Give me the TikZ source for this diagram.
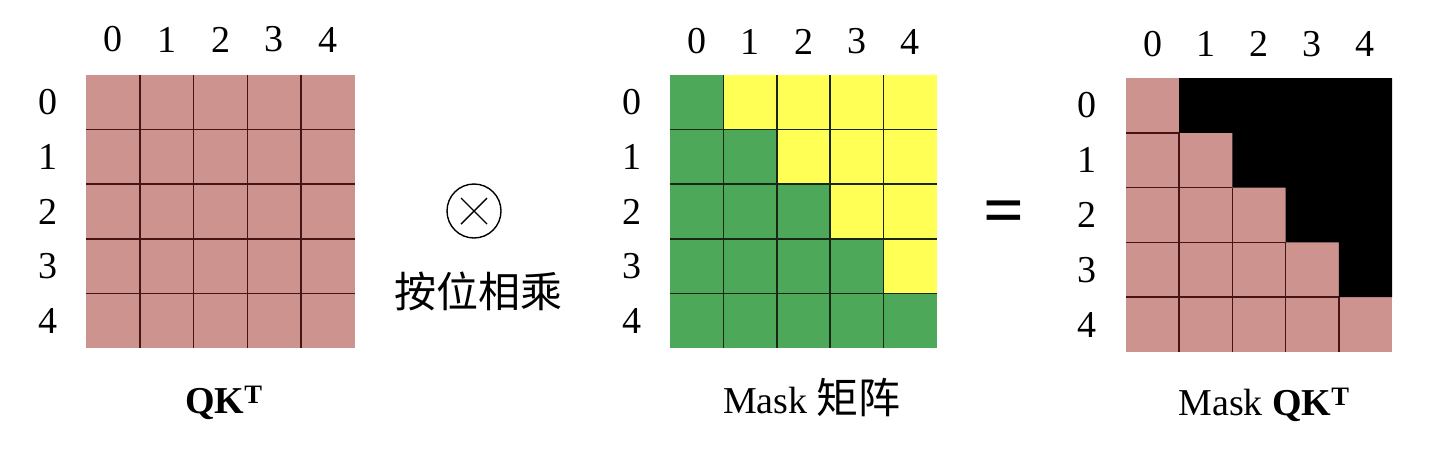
\documentclass[tikz,border=0pt]{standalone}
\usepackage{fontspec}
\setmainfont{Liberation Serif}
\newfontfamily\cjk{Noto Sans CJK SC}
\usetikzlibrary{calc}
\definecolor{qkpink}{RGB}{205,147,143}
\definecolor{mgreen}{RGB}{78,168,90}
\definecolor{myellow}{RGB}{255,255,85}
\definecolor{gridbrown}{RGB}{70,20,20}
\definecolor{gridgreen}{RGB}{25,40,20}
\begin{document}
\begin{tikzpicture}[x=1pt,y=-1pt,
  lab/.style={font=\fontsize{38}{40}\selectfont, inner sep=0pt},
  captxt/.style={font=\fontsize{38}{42}\selectfont, inner sep=0pt, anchor=base},
  gridA/.style={draw=gridbrown, line width=1.6pt},
  gridB/.style={draw=gridgreen, line width=1.5pt}]
\useasboundingbox (0,0) rectangle (1436,448);

% ---------- Matrix 1: QK^T ----------
\def\ax{86}\def\ay{75}\def\aw{53.8}\def\ah{54.6}
\fill[qkpink] (\ax,\ay) rectangle (\ax+5*\aw,\ay+5*\ah);
\foreach \i in {1,...,4} {
  \draw[gridA] (\ax+\i*\aw,\ay) -- (\ax+\i*\aw,\ay+5*\ah);
  \draw[gridA] (\ax,\ay+\i*\ah) -- (\ax+5*\aw,\ay+\i*\ah);
}
\foreach \i in {0,...,4} {
  \node[lab] (ac\i) at (\ax+\i*\aw+0.5*\aw, 39.5) {\i};
  \node[lab] (ar\i) at (48, \ay+\i*\ah+0.5*\ah) {\i};
}
\node[captxt] (qkt) at (224,413) {\textbf{QK}\textsuperscript{\textbf{T}}};

% ---------- operator ----------
\node[circle, draw, line width=1.4pt, minimum size=54pt, inner sep=0pt] (otimes) at (474,211) {};
\draw[line width=1.4pt] ($(otimes.center)+(-13,-13)$) -- ($(otimes.center)+(13,13)$);
\draw[line width=1.4pt] ($(otimes.center)+(-13,13)$) -- ($(otimes.center)+(13,-13)$);
\node[font=\cjk\fontsize{42}{46}\selectfont, inner sep=0pt] (opname) at (478,291) {按位相乘};

% ---------- Matrix 2: Mask ----------
\def\bx{670}\def\by{75}\def\bw{53.4}\def\bh{54.6}
\foreach \r in {0,...,4} {
  \foreach \c in {0,...,4} {
    \ifnum\c>\r
      \fill[myellow] (\bx+\c*\bw,\by+\r*\bh) rectangle +(\bw,\bh);
    \else
      \fill[mgreen] (\bx+\c*\bw,\by+\r*\bh) rectangle +(\bw,\bh);
    \fi
  }
}
\foreach \i in {1,...,4} {
  \draw[gridB] (\bx+\i*\bw,\by) -- (\bx+\i*\bw,\by+5*\bh);
  \draw[gridB] (\bx,\by+\i*\bh) -- (\bx+5*\bw,\by+\i*\bh);
}
\foreach \i in {0,...,4} {
  \node[lab] (bc\i) at (\bx+\i*\bw+0.5*\bw, 41.5) {\i};
  \node[lab] (br\i) at (632, \by+\i*\bh+0.5*\bh) {\i};
}
\node[captxt] (maskname) at (812,413) {Mask {\cjk\fontsize{42}{46}\selectfont 矩阵}};

% ---------- equals ----------
\node[font=\bfseries\fontsize{72}{76}\selectfont, inner sep=0pt] (eq) at (1004,218) {=};

% ---------- Matrix 3: masked QK^T ----------
\def\cx{1126}\def\cy{78}\def\cw{53.2}\def\ch{54.8}
\fill[qkpink] (\cx,\cy) rectangle (\cx+5*\cw,\cy+5*\ch);
\fill[black] (\cx+\cw,\cy) -- (\cx+5*\cw,\cy) -- (\cx+5*\cw,\cy+4*\ch)
  -- (\cx+4*\cw,\cy+4*\ch) -- (\cx+4*\cw,\cy+3*\ch)
  -- (\cx+3*\cw,\cy+3*\ch) -- (\cx+3*\cw,\cy+2*\ch)
  -- (\cx+2*\cw,\cy+2*\ch) -- (\cx+2*\cw,\cy+\ch)
  -- (\cx+\cw,\cy+\ch) -- cycle;
\foreach \i in {1,...,4} {
  \draw[gridA] (\cx+\i*\cw,\cy+\i*\ch) -- (\cx+\i*\cw,\cy+5*\ch);
  \draw[gridA] (\cx,\cy+\i*\ch) -- (\cx+\i*\cw,\cy+\i*\ch);
}
\foreach \i in {0,...,4} {
  \node[lab] (cc\i) at (\cx+\i*\cw+0.5*\cw, 44) {\i};
  \node[lab] (cr\i) at (1087, \cy+\i*\ch+0.5*\ch) {\i};
}
\node[captxt] (maskqkt) at (1264,415) {Mask \textbf{QK}\textsuperscript{\textbf{T}}};
\end{tikzpicture}
\end{document}
